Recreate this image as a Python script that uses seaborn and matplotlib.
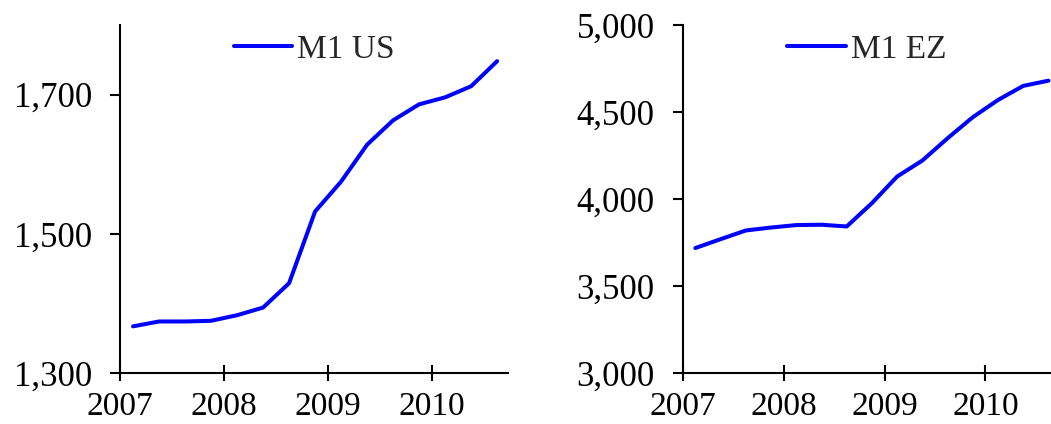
import matplotlib
matplotlib.use("Agg")
import matplotlib.pyplot as plt
import seaborn as sns
import pandas as pd
from matplotlib.ticker import StrMethodFormatter

# quarterly observations (decimal year)
quarters = [2007.125, 2007.375, 2007.625, 2007.875,
            2008.125, 2008.375, 2008.625, 2008.875,
            2009.125, 2009.375, 2009.625, 2009.875,
            2010.125, 2010.375, 2010.625]
m1_us = [1367, 1374, 1374, 1375, 1383, 1394, 1429, 1532,
         1575, 1628, 1663, 1686, 1696, 1712, 1748]
m1_ez = [3718, 3769, 3819, 3836, 3850, 3852, 3842, 3976,
         4129, 4221, 4349, 4470, 4569, 4650, 4680]
year_ticks = [2007, 2008, 2009, 2010]

sns.set_style("ticks")
plt.rcParams["font.family"] = ["Liberation Serif", "DejaVu Serif"]

fig = plt.figure(figsize=(10.51, 4.24), dpi=100)
ax1 = fig.add_axes([0.1142, 0.1203, 0.3692, 0.8208])
ax2 = fig.add_axes([0.6496, 0.1203, 0.3504, 0.8208])

df_us = pd.DataFrame({"date": quarters, "value": m1_us})
df_ez = pd.DataFrame({"date": quarters, "value": m1_ez})

panels = [
    (ax1, df_us, "M1 US", (1300, 1800), [1300, 1500, 1700], 2010.73),
    (ax2, df_ez, "M1 EZ", (3000, 5000), [3000, 3500, 4000, 4500, 5000], 2010.65),
]

for ax, d, name, ylim, yticks, xmax in panels:
    sns.lineplot(data=d, x="date", y="value", ax=ax, color="#0000FF",
                 linewidth=2.9, label=name)
    ax.set_xlim(2007, xmax)
    ax.set_ylim(*ylim)
    ax.set_yticks(yticks)
    ax.set_xticks(year_ticks)
    ax.yaxis.set_major_formatter(StrMethodFormatter("{x:,.0f}"))
    ax.set_xlabel("")
    ax.set_ylabel("")
    for side in ["top", "right"]:
        ax.spines[side].set_visible(False)
    for side in ["left", "bottom"]:
        ax.spines[side].set_linewidth(1.5)
        ax.spines[side].set_color("black")
    ax.tick_params(axis="y", direction="out", length=7.2, width=1.5,
                   labelsize=25, pad=13, colors="black")
    ax.tick_params(axis="x", direction="inout", length=12, width=1.5,
                   labelsize=24, pad=7, colors="black")
    ax.legend(loc="upper center", bbox_to_anchor=(0.5, 1.06), frameon=False,
              fontsize=24, handlelength=1.75, handletextpad=0.15)

fig.savefig("out.png", dpi=100)
